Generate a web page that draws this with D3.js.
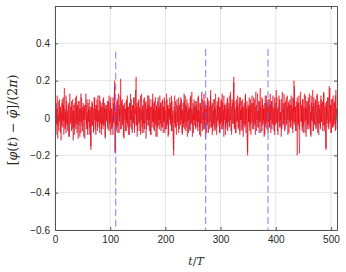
<!DOCTYPE html>
<html><head><meta charset="utf-8">
<script src="https://cdn.jsdelivr.net/npm/d3@7"></script>
<style>body{margin:0;background:#fff}svg{display:block}</style>
</head><body>
<script>
const xTicks = [0, 100, 200, 300, 400, 500];
const yTicks = [-0.6, -0.4, -0.2, 0, 0.2, 0.4];
const markerT = [110, 273, 386];
const markerTop = [0.355, 0.37, 0.37];
const markerBottom = -0.6;

const seriesDark = [
.02,-.06,.08,-.03,.05,-.11,.04,.09,-.02,.06,-.08,.03,-.04,.10,-.01,.07,-.09,.02,.05,-.05,.12,-.03,.04,-.07,.01,.08,-.10,.03,.06,-.02,.09,-.06,
.04,-.12,.07,.01,-.05,.11,-.03,.06,-.08,.02,.09,-.04,.05,-.10,.03,.13,-.02,.04,-.07,.08,-.01,.06,-.11,.02,.07,-.03,.10,-.06,.01,.05,-.09,.04,
-.02,-.15,.06,-.04,.08,.02,-.07,.11,-.01,.05,-.09,.03,.07,-.05,.12,-.02,.04,-.08,.09,.01,-.06,.06,-.03,.10,-.04,.02,.08,-.11,.05,-.01,.07,-.05,
.03,.09,-.07,.04,-.02,.11,-.06,.05,.01,-.09,.08,-.03,.17,-.18,.06,.02,-.05,.10,-.08,.04,.07,-.02,.12,-.06,.03,.09,-.04,.06,-.10,.02,.08,-.01,
.05,-.07,.10,-.03,.06,-.09,.02,.08,-.05,.13,-.01,.04,-.08,.07,-.02,.11,-.06,.03,.15,-.04,.06,-.10,.02,.09,-.03,.05,-.07,.12,-.01,.04,-.08,.06,
-.03,.10,-.06,.02,.08,-.11,.05,-.01,.07,-.04,.12,-.07,.03,.06,-.09,.01,.10,-.02,.05,-.06,.09,-.03,.04,-.10,.07,.02,-.05,.11,-.04,.06,-.01,.08,
-.07,.03,.09,-.05,.06,-.02,.11,-.08,.04,.01,-.06,.10,-.03,.07,-.09,.05,-.01,.08,-.04,.12,-.07,.02,-.12,-.17,.06,-.03,.09,-.05,.04,.10,-.02,.06,
-.08,.03,.07,-.04,.11,-.01,.05,-.09,.08,-.03,.13,-.06,.02,.07,-.05,.10,-.02,.04,-.08,.06,.01,-.07,.12,-.03,.05,-.10,.08,-.01,.06,-.04,.09,-.06,
.02,.07,-.05,.11,-.02,.04,-.09,.08,-.03,.06,.14,-.07,.03,-.01,.09,-.06,.05,-.11,.07,.02,-.04,.10,-.08,.03,.06,-.02,.12,-.05,.01,.08,-.07,.04,
-.03,.10,-.06,.05,.02,-.09,.07,-.01,.11,-.04,.06,-.08,.03,.09,-.02,.13,-.06,.04,-.10,.07,.01,-.05,.08,-.03,.10,-.07,.05,.02,-.04,.12,-.01,.06,
-.09,.04,.08,-.03,.19,-.06,.05,.01,-.08,.10,-.02,.07,-.05,.03,.11,-.07,.04,-.01,.09,-.06,.06,-.10,.02,.08,-.04,.12,-.03,.05,-.11,-.18,.07,-.02,
.05,-.07,.10,-.03,.04,.08,-.06,.02,.11,-.04,.06,-.09,.03,.07,-.01,.13,-.05,.04,-.08,.09,-.02,.06,.01,-.07,.10,-.03,.05,-.10,.08,.02,-.05,.12,
-.02,.06,-.08,.04,.10,-.05,.07,-.01,.09,-.06,.03,.12,-.04,.05,-.09,.08,.01,-.03,.11,-.07,.04,.06,-.02,.10,-.05,.03,-.10,.07,.14,-.04,.05,-.01,
.08,-.06,.03,.11,-.03,.06,-.09,.04,.09,-.02,.07,-.05,.12,-.01,.05,-.08,.10,.03,.17,-.04,.06,-.07,.02,.11,-.03,.08,-.06,-.19,.04,.09,-.02,.05,
-.07,.10,-.04,.06,.02,-.08,.12,-.01,.05,-.06,.09,-.03,.07,.13,-.05,.03,-.10,.08,-.02,.06,-.07,.11,.01,-.04,.09,-.06,.04,.12,-.03,.07,-.09,.05,
.02,-.05,.10,-.02,.08,-.07,.04,.13,-.04,.06,-.01,-.16,.09,-.03,.05,.11,-.06,.03,.16,-.02,.07,-.08,.04,.10,-.05,.02,.08,-.03,.12,-.06,.05,.01
];

const seriesRed = [
-.03,.07,-.09,.05,.12,-.04,.02,-.07,.10,-.01,.06,-.12,.04,.08,-.05,.11,-.02,.16,-.06,.03,-.08,.09,.01,-.04,.07,-.10,.05,.13,-.03,.06,-.07,.02,
.10,-.05,.04,-.09,.08,.01,-.06,.12,-.03,.07,-.11,.03,.09,-.02,.05,-.08,.11,-.04,.06,.02,-.10,.07,-.01,.04,.13,-.06,.03,-.09,.08,-.02,.10,-.05,
.06,-.17,.02,.09,-.04,.05,-.08,.03,.11,-.06,.07,-.02,.10,-.07,.04,.01,-.05,.12,-.03,.06,-.09,.08,.02,-.06,.11,-.04,.05,-.10,.07,.03,-.02,.09,
-.06,.04,.12,-.03,.08,-.09,.05,.02,-.05,.11,-.02,.07,.20,-.19,.03,-.07,.09,-.04,.06,.13,-.08,.05,.01,.21,-.06,.04,.10,-.03,.07,-.11,.05,.02,
-.07,.09,-.02,.12,-.05,.06,.03,-.09,.08,-.01,.10,-.06,.04,.07,-.03,.11,-.08,.05,.02,.22,-.04,.08,-.07,.03,.10,-.02,.06,-.09,.04,.13,-.05,.07,
.01,-.08,.11,-.03,.05,.09,-.06,.02,.12,-.04,.07,-.01,.10,-.09,.04,.06,-.05,.13,-.02,.08,-.07,.03,.11,-.04,.06,-.10,.09,-.01,.05,-.06,.12,-.03,
.08,-.05,.04,.10,-.08,.06,-.02,.09,-.06,.03,.13,-.04,.07,-.10,.05,.01,.11,-.03,.06,-.07,.09,-.02,.04,-.20,.08,.12,-.05,.03,-.09,.07,.02,-.04,
.11,-.06,.05,.08,-.03,.10,-.08,.04,.01,-.05,.09,-.02,.12,-.07,.06,.03,-.10,.08,-.01,.05,-.06,.11,-.03,.07,.14,-.04,.02,-.08,.10,-.01,.06,-.05,
.09,-.02,.04,-.07,.12,.01,-.05,.08,-.10,.06,-.03,.10,.02,-.06,.13,-.04,.07,-.01,.05,-.08,.11,-.02,.04,.09,-.06,.03,.15,-.05,.07,-.09,.02,.10,
-.04,.06,-.07,.13,.01,-.05,.09,-.02,.04,.11,-.08,.06,-.03,.10,-.06,.02,.08,-.04,.12,-.01,.07,-.09,.05,.03,-.06,.11,-.02,.08,-.05,.04,.14,-.07,
.05,.10,-.03,.07,.22,-.05,.09,-.08,.03,.06,-.02,.12,-.06,.04,.08,-.09,.11,-.01,.05,-.07,.10,-.03,.06,.02,-.05,.13,-.08,.04,.09,-.20,.06,-.02,
.11,-.04,.07,-.09,.03,.12,-.02,.08,-.06,.05,.10,-.03,.14,-.07,.04,.01,-.05,.09,-.02,.06,.16,-.08,.03,.11,-.04,.07,-.01,.05,-.09,.12,-.03,.08,
-.06,.04,.10,-.02,.07,-.05,.13,-.08,.03,.09,-.03,.06,.01,-.07,.11,-.04,.08,.15,-.02,.05,-.09,.07,.12,-.05,.03,-.01,.10,-.06,.04,.08,-.03,.13,
-.07,.05,.09,-.04,.06,.12,-.01,.08,-.08,.03,.10,-.05,.07,.02,-.06,.11,-.03,.20,-.02,.06,-.07,.09,.04,-.20,.08,-.04,.12,-.06,.05,.14,-.02,.07,
-.05,.10,-.08,.04,.13,-.02,.06,-.10,.09,.01,-.04,.11,-.06,.07,.03,-.09,.12,-.01,.05,.15,-.07,.08,-.03,.06,.10,-.05,.02,.13,-.08,.04,.09,-.03,
.07,-.06,.12,-.02,.05,.09,-.04,.14,-.07,.03,.08,-.17,.06,-.01,.11,-.05,.04,.17,-.03,.07,-.08,.10,.02,-.05,.12,-.04,.06,.09,-.07,.15,.03,-.02
];

const W = 346, H = 272;
const m = {left: 55, right: 9, top: 6, bottom: 42};
const svg = d3.select("body").append("svg").attr("width", W).attr("height", H)
  .style("font-family", "'Liberation Sans', Arial, Helvetica, sans-serif");

const x = d3.scaleLinear().domain([0, 511]).range([m.left, W - m.right]);
const y = d3.scaleLinear().domain([-0.6, 0.6]).range([H - m.bottom, m.top]);

// grid
const g = svg.append("g");
g.selectAll(".gx").data(xTicks).join("line")
  .attr("x1", d => x(d)).attr("x2", d => x(d)).attr("y1", y(-0.6)).attr("y2", y(0.6))
  .attr("stroke", "#e4e4e4").attr("stroke-width", 1);
g.selectAll(".gy").data(yTicks).join("line")
  .attr("x1", x(0)).attr("x2", x(511)).attr("y1", d => y(d)).attr("y2", d => y(d))
  .attr("stroke", "#e4e4e4").attr("stroke-width", 1);

svg.append("clipPath").attr("id", "clp").append("rect")
  .attr("x", x(0)).attr("y", y(0.6)).attr("width", x(511) - x(0)).attr("height", y(-0.6) - y(0.6));

const line = d3.line().x((d, i) => x(i)).y(d => y(d));
const plot = svg.append("g").attr("clip-path", "url(#clp)");
plot.append("path").datum(seriesDark).attr("d", line).attr("fill", "none")
  .attr("stroke", "#a8204e").attr("stroke-width", 0.7).attr("stroke-opacity", 0.85);
plot.append("path").datum(seriesRed).attr("d", line).attr("fill", "none")
  .attr("stroke", "#ff0000").attr("stroke-width", 0.7).attr("stroke-opacity", 0.8);

// markers
plot.selectAll(".mk").data(markerT).join("line")
  .attr("x1", d => x(d)).attr("x2", d => x(d))
  .attr("y1", (d, i) => y(markerTop[i])).attr("y2", y(markerBottom))
  .attr("stroke", "#5566ff").attr("stroke-opacity", 0.75).attr("stroke-width", 1.1)
  .attr("stroke-dasharray", "7,3.5");

// axes
const axisColor = "#555";
const xa = svg.append("g").attr("transform", `translate(0,${y(-0.6)})`)
  .call(d3.axisBottom(x).tickValues(xTicks).tickSizeInner(-3).tickSizeOuter(0).tickPadding(6).tickFormat(d3.format("d")));
const xt = svg.append("g").attr("transform", `translate(0,${y(0.6)})`)
  .call(d3.axisTop(x).tickValues(xTicks).tickSizeInner(-3).tickSizeOuter(0).tickFormat(""));
const ya = svg.append("g").attr("transform", `translate(${x(0)},0)`)
  .call(d3.axisLeft(y).tickValues(yTicks).tickSizeInner(-3).tickSizeOuter(0).tickPadding(5)
    .tickFormat(d => d === 0 ? "0" : d3.format(".1f")(d)));
const yr = svg.append("g").attr("transform", `translate(${x(511)},0)`)
  .call(d3.axisRight(y).tickValues(yTicks).tickSizeInner(-3).tickSizeOuter(0).tickFormat(""));
[xa, xt, ya, yr].forEach(a => {
  a.selectAll("path").attr("stroke", axisColor).attr("stroke-width", 1);
  a.selectAll("line").attr("stroke", axisColor);
  a.selectAll("text").attr("fill", "#262626").style("font-size", "10px")
    .style("font-family", "'Liberation Sans', Arial, sans-serif");
});

// labels
const xl = svg.append("text").attr("x", (x(0) + x(511)) / 2).attr("y", 265)
  .attr("text-anchor", "middle").style("font-family", "'DejaVu Serif', serif")
  .style("font-size", "11px").attr("fill", "#262626");
xl.append("tspan").style("font-style", "italic").text("t");
xl.append("tspan").text("/");
xl.append("tspan").style("font-style", "italic").text("T");

const yl = svg.append("text").attr("transform", `translate(17,${(y(-0.6) + y(0.6)) / 2 + 2}) rotate(-90)`)
  .attr("text-anchor", "middle").style("font-family", "'DejaVu Serif', serif")
  .style("font-size", "12.5px").attr("fill", "#262626");
yl.append("tspan").text("[");
yl.append("tspan").style("font-style", "italic").text("φ");
yl.append("tspan").text("(");
yl.append("tspan").style("font-style", "italic").text("t");
yl.append("tspan").text(") − ");
yl.append("tspan").style("font-style", "italic").text("φ\u0304");
yl.append("tspan").text("]/(2");
yl.append("tspan").style("font-style", "italic").text("π");
yl.append("tspan").text(")");
</script>
</body></html>
